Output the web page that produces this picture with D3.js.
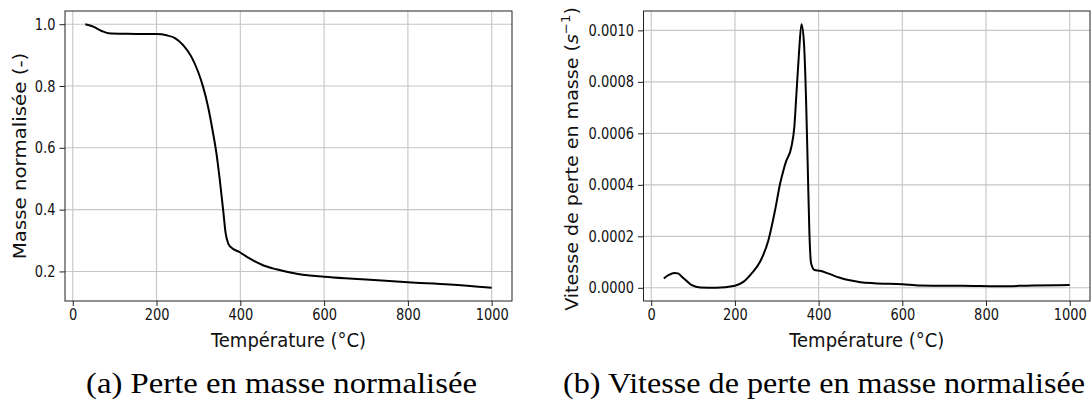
<!DOCTYPE html>
<html><head><meta charset="utf-8">
<script src="https://cdn.jsdelivr.net/npm/d3@7"></script>
<style>body{margin:0;background:#fff}svg{display:block}</style>
</head><body>
<svg id="c" width="1091" height="408"></svg>
<script>
// ---- data ----
const massTemp = [30, 49, 69, 85, 128, 200, 224, 244, 263, 283, 299, 311, 323, 335, 343, 351, 359, 365, 371, 376, 399, 422, 454, 486, 541, 600, 650, 700, 800, 900, 1000];
const massValue = [1.0, 0.992, 0.978, 0.971, 0.969, 0.968, 0.964, 0.955, 0.933, 0.895, 0.847, 0.798, 0.733, 0.647, 0.582, 0.496, 0.399, 0.323, 0.291, 0.280, 0.262, 0.242, 0.220, 0.207, 0.191, 0.183, 0.178, 0.174, 0.165, 0.158, 0.147];
const rateTemp = [30, 42, 55, 64, 73, 85, 97, 117, 155, 200, 220, 240, 260, 280, 296, 308, 316, 322, 335, 342, 347, 353, 359, 365, 370, 374, 378, 382, 390, 403, 427, 449, 471, 500, 533, 600, 642, 700, 743, 827, 911, 1000];
const rateValue = [0.000036, 0.000050, 0.000058, 0.000056, 0.000043, 0.000026, 0.000010, 0.000001, 0.0, 0.000008, 0.000023, 0.000056, 0.000101, 0.000185, 0.000302, 0.000405, 0.000457, 0.000490, 0.000548, 0.000626, 0.000755, 0.000910, 0.001024, 0.000950, 0.000730, 0.000470, 0.000211, 0.000095, 0.000069, 0.000066, 0.000053, 0.000040, 0.000030, 0.000022, 0.000018, 0.000014, 0.000009, 0.000008, 0.000008, 0.000006, 0.000009, 0.000011];
const xTicks = [0, 200, 400, 600, 800, 1000];
const massTicks = [0.2, 0.4, 0.6, 0.8, 1.0];
const rateTicks = [0, 0.0002, 0.0004, 0.0006, 0.0008, 0.0010];
const xLabel = "Température (°C)";
const massLabel = "Masse normalisée (-)";
const rateLabel = "Vitesse de perte en masse (";
const captions = ["(a) Perte en masse normalisée", "(b) Vitesse de perte en masse normalisée"];

const svg = d3.select("#c");
const SY = 1.2;  // vertical stretch of tick text
const SL = 1.1;  // stretch of axis labels
const FONT = "'DejaVu Sans', sans-serif";

function panel(opt) {
  const x = d3.scaleLinear().domain([-18.5, 1048.5]).range([opt.left, opt.right]);
  const y = d3.scaleLinear().domain(opt.yDomain).range([301, 11]);
  const g = svg.append("g");
  g.append("g").selectAll("line").data(xTicks).join("line")
    .attr("x1", d => x(d)).attr("x2", d => x(d)).attr("y1", 11).attr("y2", 301)
    .attr("stroke", "#c6c6c6").attr("stroke-width", 1.1);
  g.append("g").selectAll("line").data(opt.yTicks).join("line")
    .attr("x1", opt.left).attr("x2", opt.right).attr("y1", d => y(d)).attr("y2", d => y(d))
    .attr("stroke", "#c6c6c6").attr("stroke-width", 1.1);
  g.append("path").datum(opt.xs.map((t, i) => [t, opt.ys[i]]))
    .attr("fill", "none").attr("stroke", "#000").attr("stroke-width", 2)
    .attr("stroke-linejoin", "round")
    .attr("d", d3.line().x(d => x(d[0])).y(d => y(d[1])).curve(d3.curveMonotoneX));
  g.append("rect").attr("x", opt.left).attr("y", 11).attr("width", opt.right - opt.left).attr("height", 290)
    .attr("fill", "none").attr("stroke", "#222").attr("stroke-width", 1);
  const xa = g.append("g").attr("transform", "translate(0,301)")
    .call(d3.axisBottom(x).tickValues(xTicks).tickFormat(d3.format("d")).tickSize(5).tickPadding(6));
  const ya = g.append("g").attr("transform", `translate(${opt.left},0)`)
    .call(d3.axisLeft(y).tickValues(opt.yTicks).tickFormat(d3.format(opt.fmt)).tickSize(5.5).tickPadding(4));
  [xa, ya].forEach(a => {
    a.select(".domain").remove();
    a.selectAll(".tick line").attr("stroke", "#222").attr("stroke-width", 1);
    a.selectAll("text").attr("font-family", FONT).attr("font-size", 13).attr("fill", "#111");
  });
  xa.selectAll("text").attr("y", 8 / SY).attr("transform", `scale(1,${SY})`);
  ya.selectAll("text").attr("transform", `scale(1,${SY})`);
  svg.append("text").attr("font-family", FONT).attr("font-size", 18).attr("fill", "#111")
    .attr("text-anchor", "middle")
    .attr("transform", `translate(${(opt.left + opt.right) / 2},347) scale(1,${SL})`)
    .text(xLabel);
  const yl = svg.append("text").attr("font-family", FONT).attr("font-size", 18).attr("fill", "#111")
    .attr("text-anchor", "middle")
    .attr("transform", `translate(${opt.yLabelX},${opt.yLabelY}) rotate(-90) scale(${opt.yLabelS},1)`);
  opt.yLabelFn(yl);
  return {x, y};
}

panel({left: 65, right: 512, yDomain: [0.1043, 1.0427], xs: massTemp, ys: massValue,
  yTicks: massTicks, fmt: ".1f", yLabelX: 26, yLabelY: 156, yLabelS: SL,
  yLabelFn: t => t.text(massLabel)});

panel({left: 643.5, right: 1090, yDomain: [-0.0000512, 0.0010752], xs: rateTemp, ys: rateValue,
  yTicks: rateTicks, fmt: ".4f", yLabelX: 578, yLabelY: 159, yLabelS: 1.06,
  yLabelFn: t => {
    t.append("tspan").text(rateLabel);
    t.append("tspan").attr("font-style", "italic").text("s");
    t.append("tspan").attr("font-size", 12.5).attr("dy", -8).text("−1");
    t.append("tspan").attr("dy", 8).text(")");
  }});

const capX = [281.5, 824];
const capW = [391, 522];
svg.selectAll("text.cap").data(captions).join("text").attr("class", "cap")
  .attr("x", (d, i) => capX[i]).attr("y", 393)
  .attr("text-anchor", "middle")
  .attr("font-family", "'Liberation Serif', serif").attr("font-size", 29)
  .attr("fill", "#000")
  .attr("textLength", (d, i) => capW[i]).attr("lengthAdjust", "spacingAndGlyphs")
  .text(d => d);
</script>
</body></html>
